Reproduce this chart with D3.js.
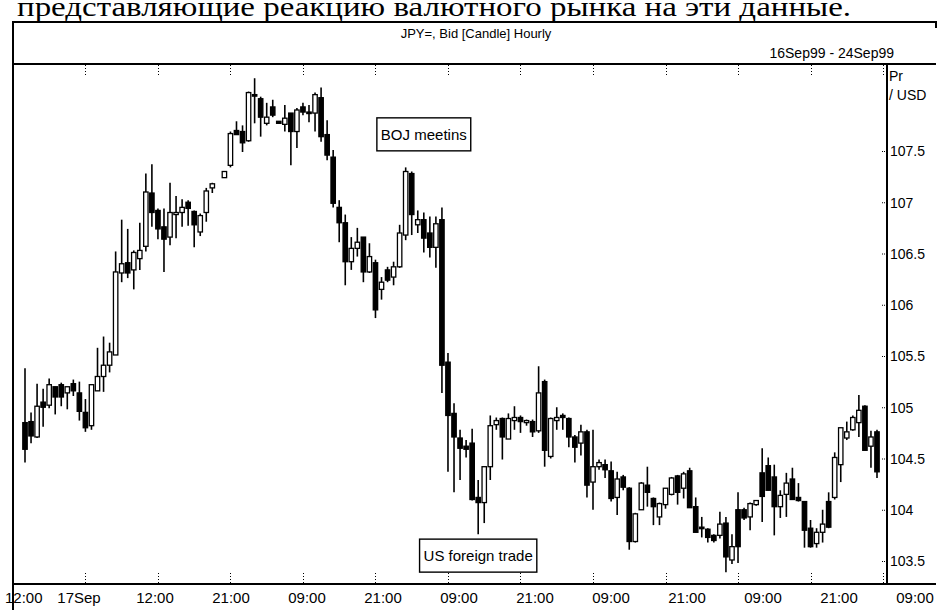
<!DOCTYPE html>
<html>
<head>
<meta charset="utf-8">
<script src="https://cdn.jsdelivr.net/npm/d3@7"></script>
<style>
  body { margin: 0; background: #fff; }
  svg { display: block; }
  .lbl { font-family: "Liberation Sans", Arial, sans-serif; fill: #000; }
</style>
</head>
<body>
<svg id="chart" width="942" height="610"></svg>
<script>
// hourly JPY= bid candles, 16Sep99 - 24Sep99 (null = no quote that hour)
const open = [
  104.85, 104.86, 104.71, 105.05, 105.02, 105.20, 105.22, 105.14, 105.23, 105.14,
  104.95, 104.82, 105.16, 105.30, 105.41, 105.51, 106.31, 106.41, 106.34, 106.45,
  106.57, 107.09, 106.92, 106.76, 106.66, 106.88, 106.90, 107.00, 106.91, 106.71,
  106.90, 107.14, null, 107.24, 107.36, 107.70, 107.69, 107.60, 108.05, 108.01,
  107.77, 107.93, 107.79, 107.76, 107.87, 107.69, 107.93, 107.88, 107.87, 108.02,
  107.66, 107.44, 106.95, 106.80, 106.42, 106.55, 106.66, 106.32, 106.41, 106.15,
  106.34, 106.27, 106.37, 106.68, 107.28, 106.78, 106.83, 106.70, 106.56, 106.83,
  105.44, 104.94, 104.70, 104.62, 104.65, 104.12, 104.07, 104.42, 104.83, 104.89,
  104.69, 104.87, 104.90, 104.85, 104.86, 104.77, 105.25, 104.52, 104.87, 104.92,
  104.89, 104.71, 104.65, 104.76, 104.27, 104.42, 104.44, 104.38, 104.12, 104.32,
  104.21, 103.69, 104.00, 104.24, 104.11, 103.93, 104.05, 104.15, 104.33, 104.21,
  104.38, 104.03, 103.83, 103.81, 103.75, 103.75, 103.87, 103.51, 104.00, 104.00,
  103.93, 104.05, 104.36, 104.43, 104.32, 104.03, 104.15, 104.30, 104.12, 104.08,
  103.82, 103.67, 103.78, 104.08, 104.12, 104.44, 104.70, 104.78, 104.85, 105.01,
  104.62, 104.76
];
const high = [
  105.38, 104.95, 105.23, 105.18, 105.28, 105.20, 105.24, 105.20, 105.27, 105.25,
  105.08, 105.22, 105.58, 105.69, 105.63, 106.52, 106.83, 106.74, 106.53, 106.80,
  107.28, 107.37, 106.94, 106.94, 107.19, 107.06, 107.03, 107.02, 106.92, 106.89,
  107.14, 107.19, null, 107.30, 107.69, 107.79, 107.75, 108.08, 108.21, 108.03,
  107.97, 108.00, 107.79, 107.95, 107.87, 107.92, 107.97, 107.95, 108.07, 108.12,
  107.80, 107.51, 107.02, 106.88, 106.66, 106.75, 106.66, 106.60, 106.44, 106.27,
  106.37, 106.42, 106.78, 107.34, 107.30, 106.92, 106.90, 106.86, 106.86, 106.95,
  105.53, 105.04, 104.78, 104.68, 104.79, 104.29, 104.42, 104.92, 104.90, 104.90,
  104.94, 105.01, 104.92, 104.88, 104.88, 105.40, 105.27, 104.90, 105.00, 104.94,
  104.90, 104.73, 104.83, 104.78, 104.78, 104.49, 104.49, 104.47, 104.37, 104.34,
  104.22, 103.97, 104.27, 104.42, 104.12, 104.07, 104.21, 104.32, 104.34, 104.37,
  104.41, 104.12, 103.93, 103.82, 103.76, 103.98, 103.93, 103.76, 104.17, 104.02,
  104.07, 104.09, 104.60, 104.51, 104.44, 104.19, 104.36, 104.41, 104.26, 104.08,
  103.90, 103.82, 104.00, 104.17, 104.56, 104.80, 104.86, 104.92, 105.12, 105.02,
  104.77, 104.78
];
const low = [
  104.46, 104.65, 104.70, 104.81, 104.99, 104.93, 105.01, 104.98, 105.11, 104.87,
  104.76, 104.78, 105.16, 105.15, 105.34, 105.51, 106.22, 106.26, 106.15, 106.34,
  106.52, 106.76, 106.64, 106.32, 106.58, 106.65, 106.76, 106.77, 106.56, 106.67,
  106.81, 107.09, null, 107.24, 107.34, 107.66, 107.49, 107.59, 107.77, 107.64,
  107.75, 107.83, 107.77, 107.69, 107.36, 107.53, 107.85, 107.78, 107.69, 107.59,
  107.41, 106.95, 106.61, 106.19, 106.34, 106.47, 106.22, 106.31, 105.87, 106.05,
  106.22, 106.19, 106.36, 106.63, 106.68, 106.70, 106.51, 106.46, 106.36, 105.14,
  104.37, 104.17, 104.29, 104.51, 104.09, 103.76, 103.87, 104.29, 104.78, 104.49,
  104.69, 104.78, 104.75, 104.82, 104.71, 104.75, 104.42, 104.50, 104.78, 104.78,
  104.61, 104.46, 104.53, 104.12, 104.00, 104.39, 104.31, 104.08, 103.95, 104.19,
  103.61, 103.68, 104.00, 104.03, 103.85, 103.85, 104.01, 104.14, 104.05, 104.11,
  104.02, 103.78, 103.73, 103.68, 103.68, 103.72, 103.39, 103.47, 103.48, 103.90,
  103.80, 104.04, 103.88, 104.19, 103.75, 103.92, 103.93, 104.11, 104.08, 103.63,
  103.63, 103.63, 103.68, 103.82, 104.10, 104.27, 104.68, 104.77, 104.71, 104.58,
  104.41, 104.31
];
const close = [
  104.59, 104.72, 105.01, 105.00, 105.22, 105.10, 105.10, 105.20, 105.16, 104.96,
  104.80, 105.22, 105.30, 105.41, 105.54, 106.32, 106.40, 106.31, 106.51, 106.53,
  107.10, 106.90, 106.74, 106.64, 106.90, 106.90, 106.95, 106.94, 106.78, 106.87,
  107.11, 107.18, null, 107.30, 107.67, 107.66, 107.58, 108.07, 108.04, 107.83,
  107.83, 107.85, 107.77, 107.82, 107.69, 107.90, 107.88, 107.87, 108.05, 107.64,
  107.46, 106.99, 106.80, 106.42, 106.55, 106.61, 106.32, 106.47, 105.95, 106.22,
  106.24, 106.37, 106.70, 107.30, 106.88, 106.83, 106.65, 106.56, 106.79, 105.41,
  104.92, 104.71, 104.60, 104.59, 104.10, 104.07, 104.42, 104.82, 104.87, 104.71,
  104.89, 104.90, 104.86, 104.87, 104.76, 105.14, 104.58, 104.89, 104.90, 104.90,
  104.71, 104.61, 104.76, 104.24, 104.42, 104.46, 104.39, 104.11, 104.30, 104.22,
  103.69, 103.96, 104.26, 104.17, 104.03, 104.06, 104.21, 104.31, 104.17, 104.35,
  104.02, 103.78, 103.82, 103.73, 103.70, 103.86, 103.54, 103.64, 103.64, 103.92,
  104.06, 104.09, 104.13, 104.19, 104.03, 104.14, 104.26, 104.10, 104.09, 103.80,
  103.64, 103.78, 103.86, 103.83, 104.51, 104.80, 104.76, 104.90, 104.97, 104.58,
  104.71, 104.37
];

// axis text
const priceTicks = [107.5, 107, 106.5, 106, 105.5, 105, 104.5, 104, 103.5];
const timeTickSlots = [-2, 10, 22, 34, 46, 58, 70, 82, 94, 106, 118, 130, 142];
const timeTickLabels = ['12:00', '17Sep', '12:00', '21:00', '09:00', '21:00', '09:00',
  '21:00', '09:00', '21:00', '09:00', '21:00', '09:00'];

const notes = [
  { text: 'BOJ meetins', slot: 66, price: 107.66 },
  { text: 'US foreign trade', slot: 75, price: 103.55 }
];

const candles = open.map((o, i) => ({ i, o, h: high[i], l: low[i], c: close[i] }))
  .filter(d => d.o !== null);

const svg = d3.select('#chart');

const plot = { left: 14, right: 887, top: 64, bottom: 584 };
const frame = { left: 13, right: 936, top: 22 };

const x = d3.scaleLinear().domain([0, open.length - 1]).range([25, 877]);
const y = d3.scaleLinear().domain([103.5, 107.5]).range([561, 151]);
// printed time labels sit on a slightly wider spacing than their ticks
const labelX = d3.scaleLinear().domain([10, 142]).range([79, 915]);

// clipped caption line of the book page above the chart
svg.append('text')
  .attr('x', 17)
  .attr('y', 16)
  .attr('textLength', 834)
  .attr('lengthAdjust', 'spacingAndGlyphs')
  .style('font-family', '"Liberation Serif", "Times New Roman", serif')
  .style('font-size', '27px')
  .text('представляющие реакцию валютного рынка на эти данные.');

// frame
const frameG = svg.append('g').attr('stroke', '#000').attr('fill', 'none');
frameG.append('path')
  .attr('stroke-width', 2)
  .attr('d', `M${frame.left},612 V${frame.top} H${frame.right} V${frame.top + 6}`);
frameG.append('line')
  .attr('stroke-width', 2.2)
  .attr('x1', frame.left).attr('x2', frame.right)
  .attr('y1', plot.top).attr('y2', plot.top);
frameG.append('line')
  .attr('stroke-width', 2)
  .attr('x1', plot.right).attr('x2', plot.right)
  .attr('y1', plot.top).attr('y2', plot.bottom);
frameG.append('line')
  .attr('stroke-width', 2)
  .attr('x1', frame.left).attr('x2', frame.right)
  .attr('y1', plot.bottom).attr('y2', plot.bottom);

// header texts
svg.append('text').attr('class', 'lbl')
  .attr('x', 476).attr('y', 38)
  .attr('text-anchor', 'middle')
  .style('font-size', '13px')
  .text('JPY=, Bid [Candle] Hourly');
svg.append('text').attr('class', 'lbl')
  .attr('x', 894).attr('y', 58)
  .attr('text-anchor', 'end')
  .style('font-size', '14px')
  .text('16Sep99 - 24Sep99');

// dotted time ticks, top and bottom of plot
const tickG = svg.append('g')
  .attr('stroke', '#000')
  .attr('stroke-width', 1)
  .attr('stroke-dasharray', '1,2');
timeTickSlots.forEach(s => {
  const tx = Math.round(x(s)) + 0.5;
  if (tx < plot.left || tx > plot.right) return;
  tickG.append('line').attr('x1', tx).attr('x2', tx).attr('y1', plot.top + 1).attr('y2', plot.top + 11);
  tickG.append('line').attr('x1', tx).attr('x2', tx).attr('y1', plot.bottom - 11).attr('y2', plot.bottom - 1);
});

// time labels
svg.append('g').selectAll('text')
  .data(timeTickSlots)
  .join('text')
  .attr('class', 'lbl')
  .style('font-size', '15px')
  .attr('y', 603)
  .attr('x', (s, i) => (labelX(s) < 30 ? frame.left - 8 : labelX(s)))
  .attr('text-anchor', s => (labelX(s) < 30 ? 'start' : 'middle'))
  .text((s, i) => timeTickLabels[i]);

// price axis on the right
const yAxis = d3.axisRight(y).tickValues(priceTicks).tickSize(0).tickPadding(3)
  .tickFormat(d3.format('~g'));
const yAxisG = svg.append('g')
  .attr('transform', `translate(${plot.right},0)`)
  .call(yAxis);
yAxisG.select('.domain').remove();
yAxisG.selectAll('text')
  .attr('class', 'lbl')
  .attr('dy', '0.35em')
  .style('font-size', '14px')
  .style('font-family', '"Liberation Sans", Arial, sans-serif');
yAxisG.selectAll('.tick').append('line')
  .attr('x1', -5).attr('x2', 0)
  .attr('stroke', '#000')
  .attr('stroke-dasharray', '1,1');
svg.append('text').attr('class', 'lbl')
  .attr('x', plot.right + 2).attr('y', 81)
  .style('font-size', '14px')
  .text('Pr');
svg.append('text').attr('class', 'lbl')
  .attr('x', plot.right + 2).attr('y', 100)
  .style('font-size', '14px')
  .text('/ USD');

// candles
const cw = 4.4;
const candleG = svg.append('g');
candleG.selectAll('line.wick')
  .data(candles)
  .join('line')
  .attr('class', 'wick')
  .attr('x1', d => x(d.i)).attr('x2', d => x(d.i))
  .attr('y1', d => y(d.h)).attr('y2', d => y(d.l))
  .attr('stroke', '#000')
  .attr('stroke-width', 1.6);
candleG.selectAll('rect.body')
  .data(candles)
  .join('rect')
  .attr('class', 'body')
  .attr('x', d => x(d.i) - cw / 2)
  .attr('width', cw)
  .attr('y', d => y(Math.max(d.o, d.c)))
  .attr('height', d => Math.max(1.5, Math.abs(y(d.o) - y(d.c))))
  .attr('fill', d => (d.c < d.o ? '#000' : '#fff'))
  .attr('stroke', '#000')
  .attr('stroke-width', 1.3);

// event boxes
notes.forEach(n => {
  const g = svg.append('g');
  const t = g.append('text').attr('class', 'lbl')
    .attr('x', x(n.slot)).attr('y', y(n.price))
    .attr('text-anchor', 'middle')
    .attr('dy', '0.35em')
    .style('font-size', '15px')
    .text(n.text);
  const bb = t.node().getBBox();
  g.insert('rect', 'text')
    .attr('x', bb.x - 4).attr('y', bb.y - 8)
    .attr('width', bb.width + 8).attr('height', bb.height + 16)
    .attr('fill', '#fff')
    .attr('stroke', '#000')
    .attr('stroke-width', 1.4);
});
</script>
</body>
</html>
